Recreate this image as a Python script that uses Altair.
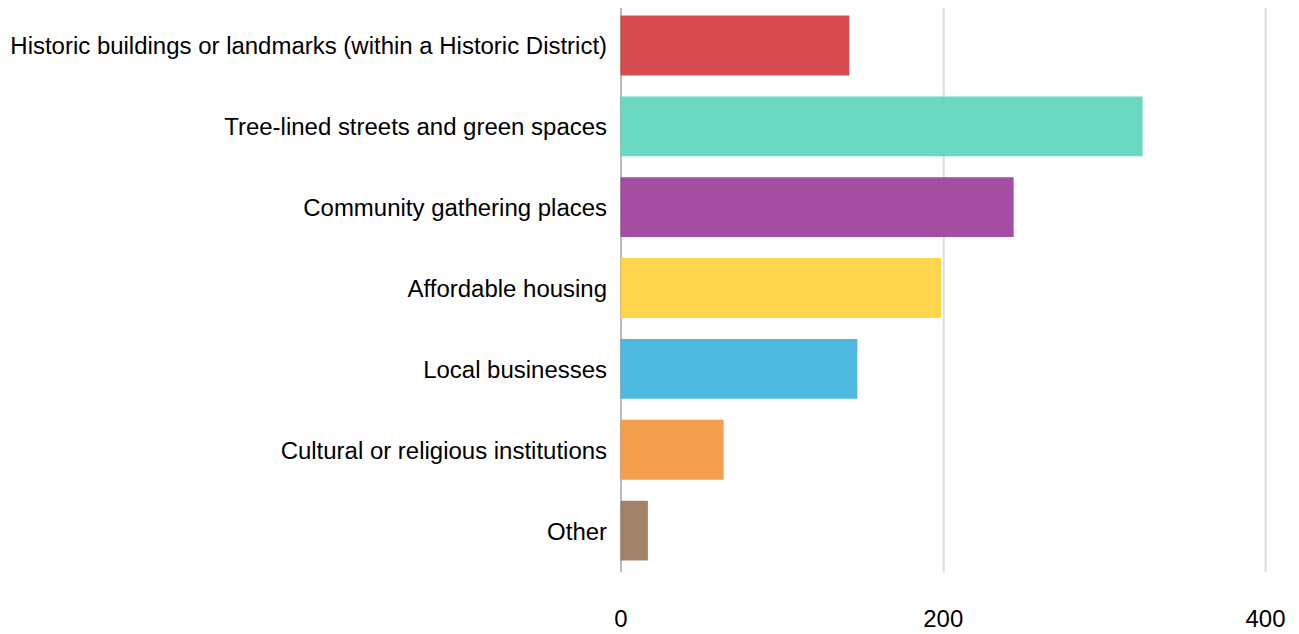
import altair as alt
import pandas as pd

categories = [
    "Historic buildings or landmarks (within a Historic District)",
    "Tree-lined streets and green spaces",
    "Community gathering places",
    "Affordable housing",
    "Local businesses",
    "Cultural or religious institutions",
    "Other",
]
values = [142, 324, 244, 199, 147, 64, 17]
colors = ["#D1373B", "#5BD5BA", "#9A3A99", "#FDD137", "#3BB3DE", "#F3953A", "#987659"]
x_ticks = [0, 200, 400]

df = pd.DataFrame({"category": categories, "value": values})

FONT = "Liberation Sans"

chart = (
    alt.Chart(df)
    .mark_bar(opacity=0.9)
    .encode(
        y=alt.Y(
            "category:N",
            sort=categories,
            scale=alt.Scale(paddingInner=0.26, paddingOuter=0.14),
            axis=alt.Axis(
                title=None,
                ticks=False,
                domain=True,
                domainColor="#bbbbbb",
                domainWidth=2,
                labelFontSize=24,
                labelFont=FONT,
                labelColor="#000000",
                labelPadding=14,
                labelOffset=2,
                labelLimit=1000,
            ),
        ),
        x=alt.X(
            "value:Q",
            scale=alt.Scale(domain=[0, 400], nice=False),
            axis=alt.Axis(
                title=None,
                values=x_ticks,
                ticks=False,
                domain=False,
                grid=True,
                gridColor="#dddddd",
                gridWidth=2,
                labelFontSize=24,
                labelFont=FONT,
                labelColor="#000000",
                labelPadding=36,
                labelFlush=False,
            ),
        ),
        color=alt.Color(
            "category:N",
            sort=categories,
            scale=alt.Scale(domain=categories, range=colors),
            legend=None,
        ),
    )
    .properties(
        width=645,
        height=568,
        padding={"left": 1, "top": -4, "right": 5, "bottom": 5},
    )
    .configure_view(stroke=None)
)

chart.save("out.html", embed_options={"renderer": "svg", "actions": False})
